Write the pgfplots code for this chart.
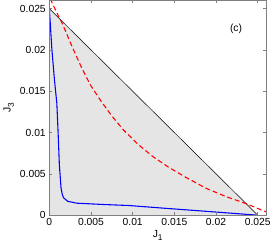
\documentclass[border=0pt]{standalone}
\usepackage{pgfplots}
\pgfplotsset{compat=1.18}
\usepackage{fontspec}
\setmainfont{Liberation Sans}
\begin{document}
\fontsize{10.5}{12}\selectfont
\begin{tikzpicture}
\begin{axis}[
  scale only axis, width=220bp, height=218bp,
  xmin=0, xmax=0.026, ymin=0, ymax=0.026,
  xtick={0,0.005,0.01,0.015,0.02,0.025},
  xticklabels={0,0.005,0.01,0.015,0.02,0.025},
  ytick={0,0.005,0.01,0.015,0.02,0.025},
  yticklabels={0,0.005,0.01,0.015,0.02,0.025},
  scaled ticks=false,
  tick align=inside, major tick length=3bp,
  axis on top,
  axis line style={black!50, line width=0.8pt},
  tick style={black!50, line width=0.5pt},
  ticklabel style={font=\fontsize{10.5}{12}\selectfont},
  xlabel={J\raisebox{-0.6ex}{\fontsize{8.5}{9}\selectfont 1}},
  ylabel={J\raisebox{-0.6ex}{\fontsize{8.5}{9}\selectfont 3}},
  label style={font=\fontsize{10.5}{12}\selectfont},
  xlabel style={yshift=3bp},
  ylabel style={yshift=-1bp},
]
\addplot[fill=black!10, draw=none] coordinates {(0,0) (0,0.025) (0.025,0)} -- cycle;
\addplot[black, line width=0.5pt] coordinates {(0,0.025) (0.025,0)};
\addplot[red, line width=1.1pt, dash pattern=on 5bp off 3bp] coordinates {
(0.0001,0.0262)
(0.0010,0.0243)
(0.0016,0.0231)
(0.0026,0.0207)
(0.0038,0.0180)
(0.0049,0.0158)
(0.0062,0.0138)
(0.0075,0.0120)
(0.0089,0.0103)
(0.0106,0.0086)
(0.0124,0.0071)
(0.0143,0.0058)
(0.0165,0.0045)
(0.0189,0.0032)
(0.0213,0.0022)
(0.0233,0.0015)
(0.0260,0.0004)
};
\addplot[blue, line width=1.1pt, line join=round] coordinates {
(0,0.0250)
(0.0003,0.0201)
(0.0006,0.0165)
(0.0009,0.0135)
(0.00105,0.0100)
(0.0012,0.0061)
(0.0014,0.0033)
(0.00155,0.0025)
(0.0017,0.0021)
(0.0022,0.00167)
(0.0033,0.00144)
(0.0065,0.00128)
(0.0095,0.00116)
(0.0142,0.0008)
(0.0201,0.00036)
(0.0248,0)
};
\node at (axis cs:0.0224,0.0225) {(c)};
\end{axis}
\end{tikzpicture}
\end{document}
